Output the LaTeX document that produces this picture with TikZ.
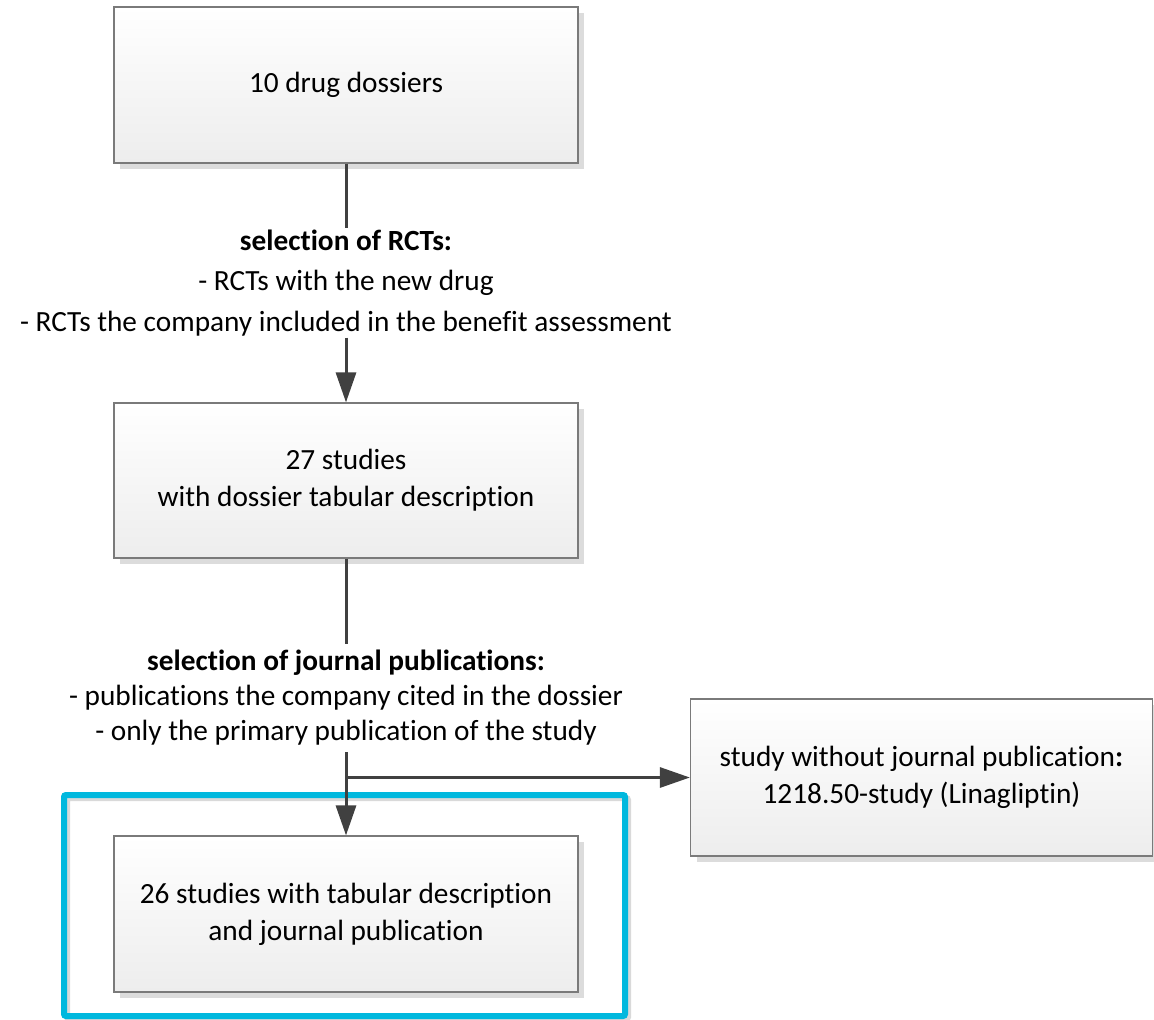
\documentclass[tikz,border=0pt]{standalone}
\usepackage{fontspec}
\setmainfont{Carlito}[Ligatures=NoCommon]
\usetikzlibrary{arrows.meta,shadows}
\definecolor{linegray}{HTML}{404040}
\definecolor{boxborder}{HTML}{7A7A7A}
\definecolor{boxbot}{HTML}{EDEDED}
\definecolor{shadowgray}{HTML}{DCDCDC}
\definecolor{hlcyan}{HTML}{00B8DE}
\begin{document}
\begin{tikzpicture}[x=1pt,y=-1pt,
  box/.style={draw=boxborder, line width=1.2pt, top color=white, bottom color=boxbot,
    minimum width=464pt, minimum height=156pt, align=center, inner sep=0pt,
    font=\fontsize{29.3}{37}\selectfont,
    drop shadow={shadow xshift=6pt, shadow yshift=-6pt, fill=shadowgray, opacity=1}},
  lab/.style={align=center, inner sep=0pt},
  conn/.style={draw=linegray, line width=3pt},
  arr/.style={conn, -{Triangle[length=30pt,width=20pt]}},
  hl/.style={draw=hlcyan, line width=6pt, rounded corners=2pt},
  hlshadow/.style={draw=black!15, line width=6pt, rounded corners=2pt}
]
\fill[white] (0,0) rectangle (1154,1020);
\useasboundingbox (0,0) rectangle (1154,1020);

% highlight frame
\draw[hlshadow] (67,798) rectangle (628,1019);
\draw[hl] (64,795) rectangle (625,1016);

\node[box] (b1) at (346,85) {10 drug dossiers};
\node[box, minimum height=155pt] (b2) at (346,480.5) {27 studies\\with dossier tabular description};
\node[box] (b3) at (346,914) {26 studies with tabular description\\and journal publication};
\node[box, minimum width=462pt, minimum height=157pt] (b4) at (921.5,777.5)
  {study without journal publication\textbf{:}\\1218.50-study (Linagliptin)};

\node[lab, minimum height=109pt, font=\fontsize{29.3}{40.5}\selectfont] (l1) at (346,283)
  {\textbf{selection of RCTs:}\\- RCTs with the new drug\\- RCTs the company included in the benefit assessment};
\node[lab, minimum height=108pt, font=\fontsize{29.3}{35}\selectfont] (l2) at (346,698)
  {\textbf{selection of journal publications:}\\- publications the company cited in the dossier\\- only the primary publication of the study};

\draw[conn] (b1) -- (l1);
\draw[arr] (l1) -- (b2);
\draw[conn] (b2) -- (l2);
\draw[arr] (l2) -- (b3);
\coordinate (br) at (l2.south |- b4.west);
\draw[arr] (br) -- (b4);
\end{tikzpicture}
\end{document}
